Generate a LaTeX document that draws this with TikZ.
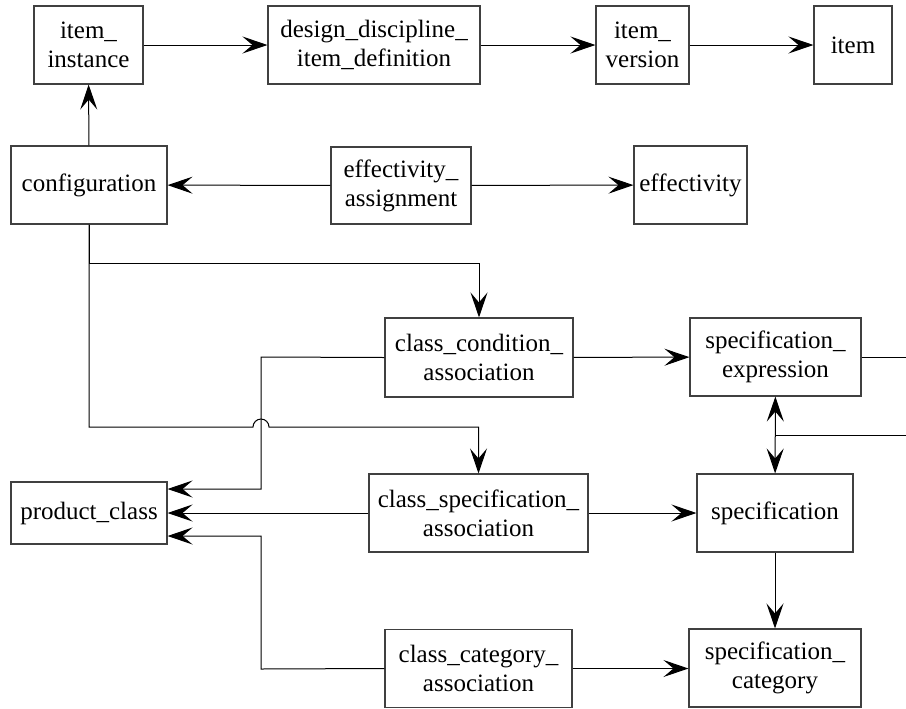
\documentclass[tikz,border=0pt]{standalone}
\usepackage{fontspec}
\setmainfont{Liberation Serif}
\usetikzlibrary{arrows.meta}
\begin{document}
\begin{tikzpicture}[x=0.5pt,y=-0.5pt,
  entity/.style={draw=black!75, line width=0.55pt, inner sep=0pt, align=center,
    font=\fontsize{12.5}{14.5}\selectfont},
  link/.style={draw=black, line width=0.5pt},
  arr/.style={link, -{Stealth[length=12.5pt,width=8.5pt,inset=5pt]}},
  dblarr/.style={link, {Stealth[length=12.5pt,width=8.5pt,inset=5pt]}-{Stealth[length=12.5pt,width=8.5pt,inset=5pt]}}]
\useasboundingbox (0,0) rectangle (906,708);

% top row
\node[entity, minimum width=54.5pt, minimum height=39pt] (inst) at (88.5,45) {item\_\\instance};
\node[entity, minimum width=106pt, minimum height=39pt] (ddid) at (374,45) {design\_discipline\_\\item\_definition};
\node[entity, minimum width=46.5pt, minimum height=39pt] (iver) at (642.5,45) {item\_\\version};
\node[entity, minimum width=39pt, minimum height=39pt] (item) at (853,45) {item};

% configuration row
\node[entity, minimum width=78pt, minimum height=39pt] (config) at (89,185) {configuration};
\node[entity, minimum width=70pt, minimum height=38.5pt] (effa) at (401,185.5) {effectivity\_\\assignment};
\node[entity, minimum width=56.5pt, minimum height=39pt] (eff) at (690.5,185) {effectivity};

% class associations and specifications
\node[entity, minimum width=94pt, minimum height=39.5pt] (ccond) at (479,357.5) {class\_condition\_\\association};
\node[entity, minimum width=85.5pt, minimum height=39pt] (sexpr) at (775.5,357) {specification\_\\expression};
\node[entity, minimum width=109.5pt, minimum height=39pt] (cspec) at (478.5,513) {class\_specification\_\\association};
\node[entity, minimum width=78pt, minimum height=39pt] (spec) at (775,513) {specification};
\node[entity, minimum width=78pt, minimum height=31pt] (pclass) at (89,513) {product\_class};
\node[entity, minimum width=93.5pt, minimum height=39pt] (ccat) at (478.5,668.5) {class\_category\_\\association};
\node[entity, minimum width=86pt, minimum height=39pt] (scat) at (775,668) {specification\_\\category};

% free ends and bends
\coordinate (exprout) at (906,357);
\coordinate (specin) at (906,435);
\coordinate (specjoin) at (775,435);
\coordinate (condbend) at (261,357);
\coordinate (catbend) at (261,669);

% top row connectors
\draw[arr] (inst) -- (ddid);
\draw[arr] (ddid) -- (iver);
\draw[arr] (iver) -- (item);
\draw[arr] (config) -- (inst);
\draw[arr] (effa) -- (config);
\draw[arr] (effa) -- (eff);

% configuration trunk with its two branches
\draw[arr] (config.south) -- (89,263) -| (ccond.north);
\draw[arr] (config.south) -- (89,427) -- (253,427) arc[start angle=180, end angle=0, radius=4pt] -- (478.5,427) -- (cspec.north);

% associations to product_class
\draw[arr] (ccond.west) -- (condbend) |- ([yshift=12pt]pclass.east);
\draw[arr] (cspec) -- (pclass);
\draw[arr] (ccat.west) -- (catbend) |- ([yshift=-11.5pt]pclass.east);

% associations to specifications
\draw[arr] (ccond) -- (sexpr);
\draw[arr] (cspec) -- (spec);
\draw[arr] (ccat.east) -- (scat.west |- ccat.east);
\draw[link] (sexpr) -- (exprout);
\draw[dblarr] (sexpr) -- (spec);
\draw[link] (specin) -- (specjoin);
\draw[arr] (spec) -- (scat);
\end{tikzpicture}
\end{document}
